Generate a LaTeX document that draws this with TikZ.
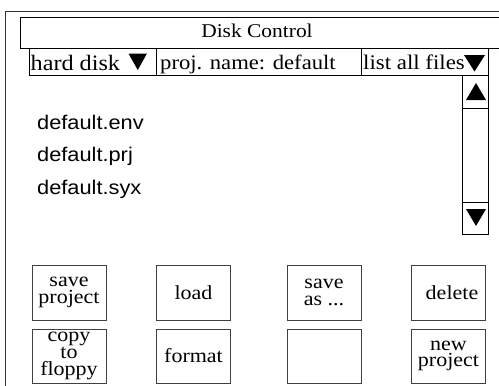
\documentclass[tikz,border=0pt]{standalone}
\usepackage{fontspec}
\setmainfont{Liberation Serif}[FakeStretch=1.1]
\newfontfamily\listfont{Liberation Sans}[FakeStretch=1.1]
\begin{document}
\begin{tikzpicture}[x=1pt,y=-1pt,
  frame/.style={draw=black!80, line width=0.9pt, inner sep=0pt, anchor=north west},
  cell/.style={draw=black, line width=0.9pt, inner sep=0pt, anchor=north west},
  txt/.style={inner sep=0pt, anchor=base west, font=\fontsize{21}{24}\selectfont},
  title/.style={inner sep=0pt, anchor=base, font=\fontsize{19.5}{22}\selectfont},
  fname/.style={inner sep=0pt, anchor=base west, font=\listfont\fontsize{19.8}{22}\selectfont},
  btn/.style={draw=black!75, line width=0.9pt, minimum width=74pt, minimum height=55pt,
    inner sep=0pt, align=center, font=\fontsize{20}{16.8}\selectfont},
  tri/.style={fill=black}
]
\useasboundingbox (0,0) rectangle (499,386);

% window frame and title bar, running off the right and bottom edges
\begin{scope}
  \clip (0,0) rectangle (499,386);
  \node[frame, minimum width=520pt, minimum height=400pt] (window) at (4.5,11) {};
  \node[cell, minimum width=500pt, minimum height=31pt] (titlebar) at (20,17) {};
\end{scope}
\node[title] (titletext) at (257,37.5) {Disk Control};

% selector row
\node[cell, minimum width=127pt, minimum height=27pt] (drive) at (29,48) {};
\node[cell, minimum width=205pt, minimum height=27pt] (project) at (156,48) {};
\node[cell, minimum width=127pt, minimum height=27pt] (filter) at (361,48) {};
\node[txt, font=\fontsize{22}{24}\selectfont] (drivetext) at (30.5,70) {hard disk};
\node[txt, font=\fontsize{20.6}{24}\selectfont] (projecttext) at (160,69.5) {proj. name: default};
\node[txt, font=\fontsize{20.8}{24}\selectfont] (filtertext) at (363,69.5) {list all files};
\fill[tri] (128.5,53.5) -- (147,53.5) -- (137.75,70) -- cycle;
\fill[tri] (464,55) -- (485,55) -- (474.5,71.5) -- cycle;

% scroll bar
\node[cell, minimum width=26pt, minimum height=159pt] (scrollbar) at (462,75) {};
\node[cell, minimum width=26pt, minimum height=33pt] (scrollup) at (462,75) {};
\node[cell, minimum width=26pt, minimum height=32pt] (scrolldown) at (462,202) {};
\fill[tri] (466,100) -- (486,100) -- (476,83) -- cycle;
\fill[tri] (466,209) -- (486,209) -- (476,226) -- cycle;

% file list
\node[fname] (f1) at (37,129) {default.env};
\node[fname] (f2) at (37,161.5) {default.prj};
\node[fname] (f3) at (37,194) {default.syx};

% buttons
\node[btn] (saveproj) at (69,292.5) {save\\project};
\node[btn] (load) at (193.5,292.5) {load};
\node[btn] (saveas) at (324,292.5) {save\\as ...};
\node[btn] (delete) at (448.5,292.5) {\hspace*{7pt}delete};
\node[btn, minimum height=54pt] (copy) at (69,356) {copy\\to\\floppy};
\node[btn, minimum height=54pt] (format) at (193.5,356) {format};
\node[btn, minimum height=54pt] (blank) at (324,356) {};
\node[btn, minimum height=54pt] (newproj) at (448.5,356) {new\\project};
\end{tikzpicture}
\end{document}
